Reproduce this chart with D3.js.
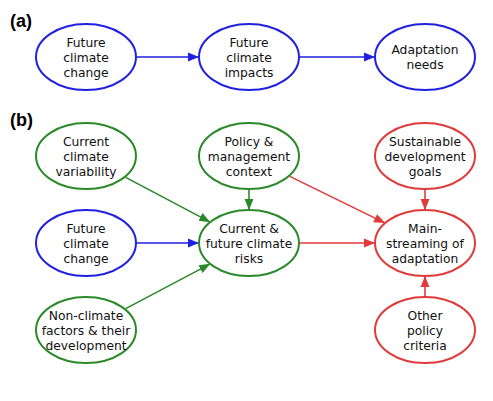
<!DOCTYPE html>
<html><head><meta charset="utf-8">
<script src="https://cdn.jsdelivr.net/npm/d3@7"></script>
<style>body{margin:0;background:#fff}</style></head>
<body><svg id="c" width="493" height="401"></svg>
<script>
const columns = ["left","middle","right"];
const rows = ["a","b1","b2","b3"];
const nodes = [
  {id:"fcc_a", col:"left", row:"a", label:["Future","climate","change"], color:"blue"},
  {id:"fci", col:"middle", row:"a", label:["Future","climate","impacts"], color:"blue"},
  {id:"an", col:"right", row:"a", label:["Adaptation","needs"], color:"blue"},
  {id:"ccv", col:"left", row:"b1", label:["Current","climate","variability"], color:"green"},
  {id:"pmc", col:"middle", row:"b1", label:["Policy &","management","context"], color:"green"},
  {id:"sdg", col:"right", row:"b1", label:["Sustainable","development","goals"], color:"red"},
  {id:"fcc_b", col:"left", row:"b2", label:["Future","climate","change"], color:"blue"},
  {id:"risk", col:"middle", row:"b2", label:["Current &","future climate","risks"], color:"green"},
  {id:"main", col:"right", row:"b2", label:["Main-","streaming of","adaptation"], color:"red"},
  {id:"ncf", col:"left", row:"b3", label:["Non-climate","factors & their","development"], color:"green"},
  {id:"opc", col:"right", row:"b3", label:["Other","policy","criteria"], color:"red"}
];
const links = [
  ["fcc_a","fci","blue"],["fci","an","blue"],
  ["ccv","risk","green"],["fcc_b","risk","blue"],["ncf","risk","green"],["pmc","risk","green"],
  ["pmc","main","red"],["risk","main","red"],["sdg","main","red"],["opc","main","red"]
];
const panelLabels = [["(a)","a"],["(b)","b1"]];
const colors = {blue:"#2020e0", green:"#2a8a2a", red:"#e03a3a"};

const svg = d3.select("#c");
const x = d3.scaleOrdinal().domain(columns).range([86,249,425]);
const y = d3.scaleOrdinal().domain(rows).range([57,156,243,330]);
const rx = 50, ry = 33;
const byId = Object.fromEntries(nodes.map(n=>[n.id,n]));
const defs = svg.append("defs");
Object.entries(colors).forEach(([k,c])=>{
  defs.append("marker").attr("id","m"+k).attr("viewBox","0 0 10 10").attr("refX",9).attr("refY",5)
   .attr("markerWidth",7).attr("markerHeight",7).attr("orient","auto")
   .append("path").attr("d","M0,1L10,5L0,9z").attr("fill",c);
});
function edge(n, dx, dy){
  const t = Math.atan2(dy/ry, dx/rx);
  return [x(n.col)+ (rx+1)*Math.cos(t), y(n.row)+(ry+1)*Math.sin(t)];
}
links.forEach(([s,t,c])=>{
  const a=byId[s], b=byId[t];
  const dx=x(b.col)-x(a.col), dy=y(b.row)-y(a.row);
  const p1=edge(a,dx,dy), p2=edge(b,-dx,-dy);
  svg.append("line").attr("x1",p1[0]).attr("y1",p1[1]).attr("x2",p2[0]).attr("y2",p2[1])
    .attr("stroke",colors[c]).attr("stroke-width",1.6).attr("marker-end",`url(#m${c})`);
});
const g = svg.selectAll("g.n").data(nodes).join("g").attr("transform",d=>`translate(${x(d.col)},${y(d.row)})`);
g.append("ellipse").attr("rx",rx).attr("ry",ry).attr("fill","#fff").attr("stroke",d=>colors[d.color]).attr("stroke-width",2);
g.each(function(d){
  const t=d3.select(this).append("text").attr("text-anchor","middle").attr("font-family","DejaVu Sans, Verdana, sans-serif").attr("font-size",12.3).attr("fill","#111");
  const n=d.label.length;
  d.label.forEach((l,i)=>t.append("tspan").attr("x",0).attr("y",(i-(n-1)/2)*15+4.5).text(l));
});
svg.selectAll("text.p").data(panelLabels).join("text").attr("x",10).attr("y",d=>y(d[1])-30)
  .attr("font-family","Liberation Sans, Arial, sans-serif").attr("font-weight","bold").attr("font-size",18).text(d=>d[0]);
</script></body></html>
